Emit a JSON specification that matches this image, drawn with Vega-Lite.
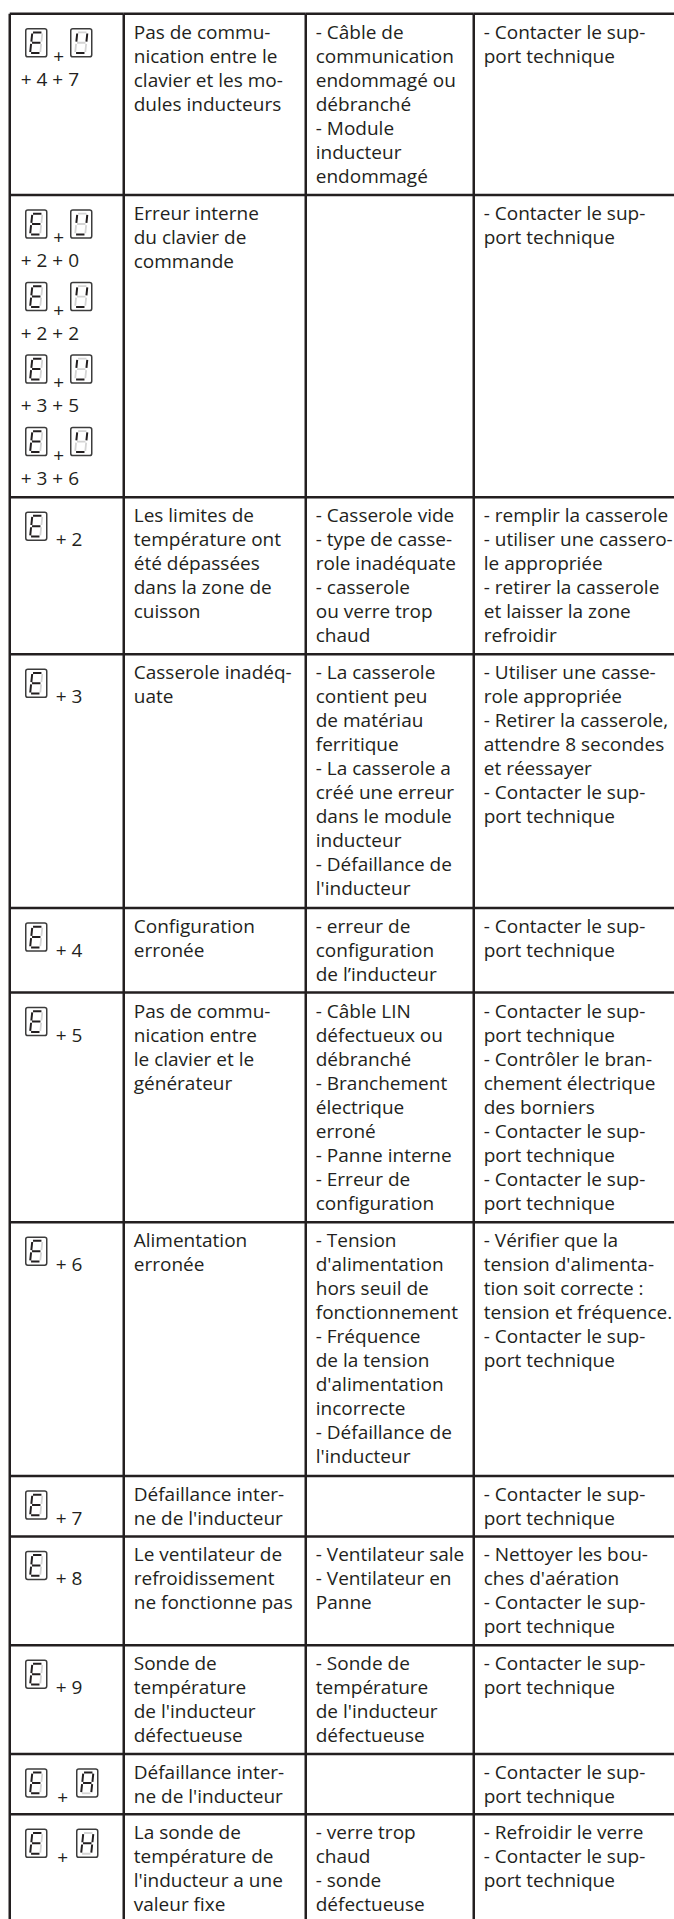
{
  "$schema": "https://vega.github.io/schema/vega-lite/v6.json",
  "background": "white",
  "padding": {"left": 7.75, "top": 11.75, "right": 0, "bottom": 0},
  "spacing": 0,
  "bounds": "flush",
  "config": {"view": {"stroke": null}, "concat": {"spacing": 0}},
  "data": {"values": [
    {"row": 1, "sub": 0, "lines": 7.5, "kind": "pair", "g2": "U", "code": "+ 4 + 7",
     "desc": ["Pas de commu-", "nication entre le", "clavier et les mo-", "dules inducteurs"],
     "cause": ["- Câble de", "communication", "endommagé ou", "débranché", "- Module", "inducteur", "endommagé"],
     "action": ["- Contacter le sup-", "port technique"]},
    {"row": 2, "sub": 0, "lines": 3, "kind": "pair", "g2": "U", "code": "+ 2 + 0",
     "desc": ["Erreur interne", "du clavier de", "commande"], "cause": "",
     "action": ["- Contacter le sup-", "port technique"]},
    {"row": 2, "sub": 1, "lines": 3, "kind": "pair", "g2": "U", "code": "+ 2 + 2", "desc": "", "cause": "", "action": ""},
    {"row": 2, "sub": 2, "lines": 3, "kind": "pair", "g2": "U", "code": "+ 3 + 5", "desc": "", "cause": "", "action": ""},
    {"row": 2, "sub": 3, "lines": 3.5, "kind": "pair", "g2": "U", "code": "+ 3 + 6", "desc": "", "cause": "", "action": ""},
    {"row": 3, "sub": 0, "lines": 6.5, "kind": "single", "g2": "", "code": "+ 2",
     "desc": ["Les limites de", "température ont", "été dépassées", "dans la zone de", "cuisson"],
     "cause": ["- Casserole vide", "- type de casse-", "role inadéquate", "- casserole", "ou verre trop", "chaud"],
     "action": ["- remplir la casserole", "- utiliser une cassero-", "le appropriée", "- retirer la casserole", "et laisser la zone", "refroidir"]},
    {"row": 4, "sub": 0, "lines": 10.5, "kind": "single", "g2": "", "code": "+ 3",
     "desc": ["Casserole inadéq-", "uate"],
     "cause": ["- La casserole", "contient peu", "de matériau", "ferritique", "- La casserole a", "créé une erreur", "dans le module", "inducteur", "- Défaillance de", "l'inducteur"],
     "action": ["- Utiliser une casse-", "role appropriée", "- Retirer la casserole,", "attendre 8 secondes", "et réessayer", "- Contacter le sup-", "port technique"]},
    {"row": 5, "sub": 0, "lines": 3.5, "kind": "single", "g2": "", "code": "+ 4",
     "desc": ["Configuration", "erronée"],
     "cause": ["- erreur de", "configuration", "de l’inducteur"],
     "action": ["- Contacter le sup-", "port technique"]},
    {"row": 6, "sub": 0, "lines": 9.5, "kind": "single", "g2": "", "code": "+ 5",
     "desc": ["Pas de commu-", "nication entre", "le clavier et le", "générateur"],
     "cause": ["- Câble LIN", "défectueux ou", "débranché", "- Branchement", "électrique", "erroné", "- Panne interne", "- Erreur de", "configuration"],
     "action": ["- Contacter le sup-", "port technique", "- Contrôler le bran-", "chement électrique", "des borniers", "- Contacter le sup-", "port technique", "- Contacter le sup-", "port technique"]},
    {"row": 7, "sub": 0, "lines": 10.5, "kind": "single", "g2": "", "code": "+ 6",
     "desc": ["Alimentation", "erronée"],
     "cause": ["- Tension", "d'alimentation", "hors seuil de", "fonctionnement", "- Fréquence", "de la tension", "d'alimentation", "incorrecte", "- Défaillance de", "l'inducteur"],
     "action": ["- Vérifier que la", "tension d'alimenta-", "tion soit correcte :", "tension et fréquence.", "- Contacter le sup-", "port technique"]},
    {"row": 8, "sub": 0, "lines": 2.5, "kind": "single", "g2": "", "code": "+ 7",
     "desc": ["Défaillance inter-", "ne de l'inducteur"], "cause": "",
     "action": ["- Contacter le sup-", "port technique"]},
    {"row": 9, "sub": 0, "lines": 4.5, "kind": "single", "g2": "", "code": "+ 8",
     "desc": ["Le ventilateur de", "refroidissement", "ne fonctionne pas"],
     "cause": ["- Ventilateur sale", "- Ventilateur en", "Panne"],
     "action": ["- Nettoyer les bou-", "ches d'aération", "- Contacter le sup-", "port technique"]},
    {"row": 10, "sub": 0, "lines": 4.5, "kind": "single", "g2": "", "code": "+ 9",
     "desc": ["Sonde de", "température", "de l'inducteur", "défectueuse"],
     "cause": ["- Sonde de", "température", "de l'inducteur", "défectueuse"],
     "action": ["- Contacter le sup-", "port technique"]},
    {"row": 11, "sub": 0, "lines": 2.5, "kind": "pair2", "g2": "A", "code": "",
     "desc": ["Défaillance inter-", "ne de l'inducteur"], "cause": "",
     "action": ["- Contacter le sup-", "port technique"]},
    {"row": 12, "sub": 0, "lines": 4.5, "kind": "pair2", "g2": "H", "code": "",
     "desc": ["La sonde de", "température de", "l'inducteur a une", "valeur fixe"],
     "cause": ["- verre trop", "chaud", "- sonde", "défectueuse"],
     "action": ["- Refroidir le verre", "- Contacter le sup-", "port technique"]}
  ]},
  "transform": [
    {"stack": "lines", "groupby": [], "sort": [{"field": "row", "order": "ascending"}, {"field": "sub", "order": "ascending"}], "as": ["y0", "y1"]}
  ],
  "hconcat": [
    {
      "width": 114, "height": 1906,
      "resolve": {"scale": {"shape": "independent"}},
      "layer": [
        {"transform": [{"filter": "datum.sub == 0"}],
         "mark": {"type": "rule", "color": "#231f20", "strokeWidth": 2.5},
         "encoding": {"y": {"field": "y0", "type": "quantitative", "scale": {"domain": [0, 78.86], "reverse": true, "nice": false, "zero": false}, "axis": null}}},
        {"transform": [{"filter": "datum.row == 1 && datum.sub == 0"}],
         "mark": {"type": "rule", "color": "#231f20", "strokeWidth": 2.5},
         "encoding": {"x": {"datum": 0, "type": "quantitative", "scale": {"domain": [0, 1], "nice": false}, "axis": null}}},
        {"mark": {"type": "point", "shape": "M-0.6,-1H0.6Q0.75,-1 0.75,-0.85V0.85Q0.75,1 0.6,1H-0.6Q-0.75,1 -0.75,0.85V-0.85Q-0.75,-1 -0.6,-1Z", "size": 784, "filled": false, "stroke": "#3c3c3c", "strokeWidth": 1.5, "opacity": 1, "xOffset": 26.5, "yOffset": 29},
         "encoding": {"x": {"datum": 0, "type": "quantitative", "axis": null}, "y": {"field": "y0", "type": "quantitative", "axis": null}}},
        {"mark": {"type": "point", "shape": "M0.43,-0.66L0.37,-0.08M0.35,0.08L0.29,0.66", "size": 784, "filled": false, "stroke": "#d4d4d4", "strokeWidth": 1.8, "opacity": 1, "xOffset": 26.5, "yOffset": 29},
         "encoding": {"x": {"datum": 0, "type": "quantitative", "axis": null}, "y": {"field": "y0", "type": "quantitative", "axis": null}}},
        {"mark": {"type": "point", "shape": "M-0.23,-0.74L0.37,-0.74M-0.37,0.74L0.23,0.74M-0.37,0.08L-0.43,0.66M-0.29,-0.66L-0.35,-0.08M-0.3,0L0.3,0", "size": 784, "filled": false, "stroke": "#231f20", "strokeWidth": 2, "opacity": 1, "xOffset": 26.5, "yOffset": 29},
         "encoding": {"x": {"datum": 0, "type": "quantitative", "axis": null}, "y": {"field": "y0", "type": "quantitative", "axis": null}}},
        {"transform": [{"filter": "datum.kind == 'pair'"}],
         "mark": {"type": "point", "shape": "M-0.6,-1H0.6Q0.75,-1 0.75,-0.85V0.85Q0.75,1 0.6,1H-0.6Q-0.75,1 -0.75,0.85V-0.85Q-0.75,-1 -0.6,-1Z", "size": 784, "filled": false, "stroke": "#3c3c3c", "strokeWidth": 1.5, "opacity": 1, "xOffset": 71.5, "yOffset": 29},
         "encoding": {"x": {"datum": 0, "type": "quantitative", "axis": null}, "y": {"field": "y0", "type": "quantitative", "axis": null}}},
        {"transform": [{"filter": "datum.kind == 'pair'"}],
         "mark": {"type": "point", "size": 784, "filled": false, "stroke": "#d4d4d4", "strokeWidth": 1.8, "opacity": 1, "xOffset": 71.5, "yOffset": 29},
         "encoding": {"x": {"datum": 0, "type": "quantitative", "axis": null}, "y": {"field": "y0", "type": "quantitative", "axis": null},
           "shape": {"field": "g2", "type": "nominal", "legend": null, "scale": {"domain": ["U", "A", "H"], "range": [
             "M-0.23,-0.74L0.37,-0.74M0.35,0.08L0.29,0.66M-0.37,0.08L-0.43,0.66M-0.3,0L0.3,0",
             "M-0.37,0.74L0.23,0.74",
             "M-0.23,-0.74L0.37,-0.74M-0.37,0.74L0.23,0.74"]}}}},
        {"transform": [{"filter": "datum.kind == 'pair'"}],
         "mark": {"type": "point", "size": 784, "filled": false, "stroke": "#231f20", "strokeWidth": 2, "opacity": 1, "xOffset": 71.5, "yOffset": 29},
         "encoding": {"x": {"datum": 0, "type": "quantitative", "axis": null}, "y": {"field": "y0", "type": "quantitative", "axis": null},
           "shape": {"field": "g2", "type": "nominal", "legend": null, "scale": {"domain": ["U", "A", "H"], "range": [
             "M-0.29,-0.66L-0.35,-0.08M0.43,-0.66L0.37,-0.08M-0.37,0.74L0.23,0.74",
             "M-0.23,-0.74L0.37,-0.74M0.43,-0.66L0.37,-0.08M0.35,0.08L0.29,0.66M-0.37,0.08L-0.43,0.66M-0.29,-0.66L-0.35,-0.08M-0.3,0L0.3,0",
             "M0.43,-0.66L0.37,-0.08M0.35,0.08L0.29,0.66M-0.37,0.08L-0.43,0.66M-0.29,-0.66L-0.35,-0.08M-0.3,0L0.3,0"]}}}},
        {"transform": [{"filter": "datum.kind == 'pair2'"}],
         "mark": {"type": "point", "shape": "M-0.6,-1H0.6Q0.75,-1 0.75,-0.85V0.85Q0.75,1 0.6,1H-0.6Q-0.75,1 -0.75,0.85V-0.85Q-0.75,-1 -0.6,-1Z", "size": 784, "filled": false, "stroke": "#3c3c3c", "strokeWidth": 1.5, "opacity": 1, "xOffset": 77.5, "yOffset": 29},
         "encoding": {"x": {"datum": 0, "type": "quantitative", "axis": null}, "y": {"field": "y0", "type": "quantitative", "axis": null}}},
        {"transform": [{"filter": "datum.kind == 'pair2'"}],
         "mark": {"type": "point", "size": 784, "filled": false, "stroke": "#d4d4d4", "strokeWidth": 1.8, "opacity": 1, "xOffset": 77.5, "yOffset": 29},
         "encoding": {"x": {"datum": 0, "type": "quantitative", "axis": null}, "y": {"field": "y0", "type": "quantitative", "axis": null},
           "shape": {"field": "g2", "type": "nominal", "legend": null, "scale": {"domain": ["U", "A", "H"], "range": [
             "M-0.23,-0.74L0.37,-0.74M0.35,0.08L0.29,0.66M-0.37,0.08L-0.43,0.66M-0.3,0L0.3,0",
             "M-0.37,0.74L0.23,0.74",
             "M-0.23,-0.74L0.37,-0.74M-0.37,0.74L0.23,0.74"]}}}},
        {"transform": [{"filter": "datum.kind == 'pair2'"}],
         "mark": {"type": "point", "size": 784, "filled": false, "stroke": "#231f20", "strokeWidth": 2, "opacity": 1, "xOffset": 77.5, "yOffset": 29},
         "encoding": {"x": {"datum": 0, "type": "quantitative", "axis": null}, "y": {"field": "y0", "type": "quantitative", "axis": null},
           "shape": {"field": "g2", "type": "nominal", "legend": null, "scale": {"domain": ["U", "A", "H"], "range": [
             "M-0.29,-0.66L-0.35,-0.08M0.43,-0.66L0.37,-0.08M-0.37,0.74L0.23,0.74",
             "M-0.23,-0.74L0.37,-0.74M0.43,-0.66L0.37,-0.08M0.35,0.08L0.29,0.66M-0.37,0.08L-0.43,0.66M-0.29,-0.66L-0.35,-0.08M-0.3,0L0.3,0",
             "M0.43,-0.66L0.37,-0.08M0.35,0.08L0.29,0.66M-0.37,0.08L-0.43,0.66M-0.29,-0.66L-0.35,-0.08M-0.3,0L0.3,0"]}}}},
        {"transform": [{"filter": "datum.kind == 'pair'"}],
         "mark": {"type": "text", "text": "+", "align": "center", "baseline": "alphabetic", "font": "Open Sans", "fontSize": 19, "color": "#231f20", "dx": 49, "dy": 49},
         "encoding": {"x": {"datum": 0, "type": "quantitative", "axis": null}, "y": {"field": "y0", "type": "quantitative", "axis": null}}},
        {"transform": [{"filter": "datum.kind == 'pair2'"}],
         "mark": {"type": "text", "text": "+", "align": "center", "baseline": "alphabetic", "font": "Open Sans", "fontSize": 19, "color": "#231f20", "dx": 53, "dy": 50},
         "encoding": {"x": {"datum": 0, "type": "quantitative", "axis": null}, "y": {"field": "y0", "type": "quantitative", "axis": null}}},
        {"transform": [{"filter": "datum.kind == 'pair'"}],
         "mark": {"type": "text", "align": "left", "baseline": "alphabetic", "font": "Open Sans", "fontSize": 19, "color": "#231f20", "dx": 11, "dy": 72, "clip": true},
         "encoding": {"x": {"datum": 0, "type": "quantitative", "axis": null}, "y": {"field": "y0", "type": "quantitative", "axis": null}, "text": {"field": "code", "type": "nominal"}}},
        {"transform": [{"filter": "datum.kind == 'single'"}],
         "mark": {"type": "text", "align": "left", "baseline": "alphabetic", "font": "Open Sans", "fontSize": 19, "color": "#231f20", "dx": 46, "dy": 49, "clip": true},
         "encoding": {"x": {"datum": 0, "type": "quantitative", "axis": null}, "y": {"field": "y0", "type": "quantitative", "axis": null}, "text": {"field": "code", "type": "nominal"}}}
      ]
    },
    {
      "width": 182, "height": 1906,
      "layer": [
        {"transform": [{"filter": "datum.sub == 0"}],
         "mark": {"type": "rule", "color": "#231f20", "strokeWidth": 2.5},
         "encoding": {"y": {"field": "y0", "type": "quantitative", "scale": {"domain": [0, 78.86], "reverse": true, "nice": false, "zero": false}, "axis": null}}},
        {"transform": [{"filter": "datum.row == 1 && datum.sub == 0"}],
         "mark": {"type": "rule", "color": "#231f20", "strokeWidth": 2.5},
         "encoding": {"x": {"datum": 0, "type": "quantitative", "scale": {"domain": [0, 1], "nice": false}, "axis": null}}},
        {"transform": [{"filter": "datum.sub == 0"}],
         "mark": {"type": "text", "align": "left", "baseline": "alphabetic", "font": "Open Sans", "fontSize": 19, "lineHeight": 24, "color": "#231f20", "dx": 10, "dy": 25, "clip": true},
         "encoding": {"x": {"datum": 0, "type": "quantitative", "axis": null}, "y": {"field": "y0", "type": "quantitative", "axis": null}, "text": {"field": "desc", "type": "nominal"}}}
      ]
    },
    {
      "width": 168, "height": 1906,
      "layer": [
        {"transform": [{"filter": "datum.sub == 0"}],
         "mark": {"type": "rule", "color": "#231f20", "strokeWidth": 2.5},
         "encoding": {"y": {"field": "y0", "type": "quantitative", "scale": {"domain": [0, 78.86], "reverse": true, "nice": false, "zero": false}, "axis": null}}},
        {"transform": [{"filter": "datum.row == 1 && datum.sub == 0"}],
         "mark": {"type": "rule", "color": "#231f20", "strokeWidth": 2.5},
         "encoding": {"x": {"datum": 0, "type": "quantitative", "scale": {"domain": [0, 1], "nice": false}, "axis": null}}},
        {"transform": [{"filter": "datum.sub == 0"}],
         "mark": {"type": "text", "align": "left", "baseline": "alphabetic", "font": "Open Sans", "fontSize": 19, "lineHeight": 24, "color": "#231f20", "dx": 10, "dy": 25, "clip": true},
         "encoding": {"x": {"datum": 0, "type": "quantitative", "axis": null}, "y": {"field": "y0", "type": "quantitative", "axis": null}, "text": {"field": "cause", "type": "nominal"}}}
      ]
    },
    {
      "width": 201, "height": 1906,
      "layer": [
        {"transform": [{"filter": "datum.sub == 0"}],
         "mark": {"type": "rule", "color": "#231f20", "strokeWidth": 2.5},
         "encoding": {"y": {"field": "y0", "type": "quantitative", "scale": {"domain": [0, 78.86], "reverse": true, "nice": false, "zero": false}, "axis": null}}},
        {"transform": [{"filter": "datum.row == 1 && datum.sub == 0"}],
         "mark": {"type": "rule", "color": "#231f20", "strokeWidth": 2.5},
         "encoding": {"x": {"datum": 0, "type": "quantitative", "scale": {"domain": [0, 1], "nice": false}, "axis": null}}},
        {"transform": [{"filter": "datum.sub == 0"}],
         "mark": {"type": "text", "align": "left", "baseline": "alphabetic", "font": "Open Sans", "fontSize": 19, "lineHeight": 24, "color": "#231f20", "dx": 10, "dy": 25, "clip": true},
         "encoding": {"x": {"datum": 0, "type": "quantitative", "axis": null}, "y": {"field": "y0", "type": "quantitative", "axis": null}, "text": {"field": "action", "type": "nominal"}}}
      ]
    }
  ]
}
